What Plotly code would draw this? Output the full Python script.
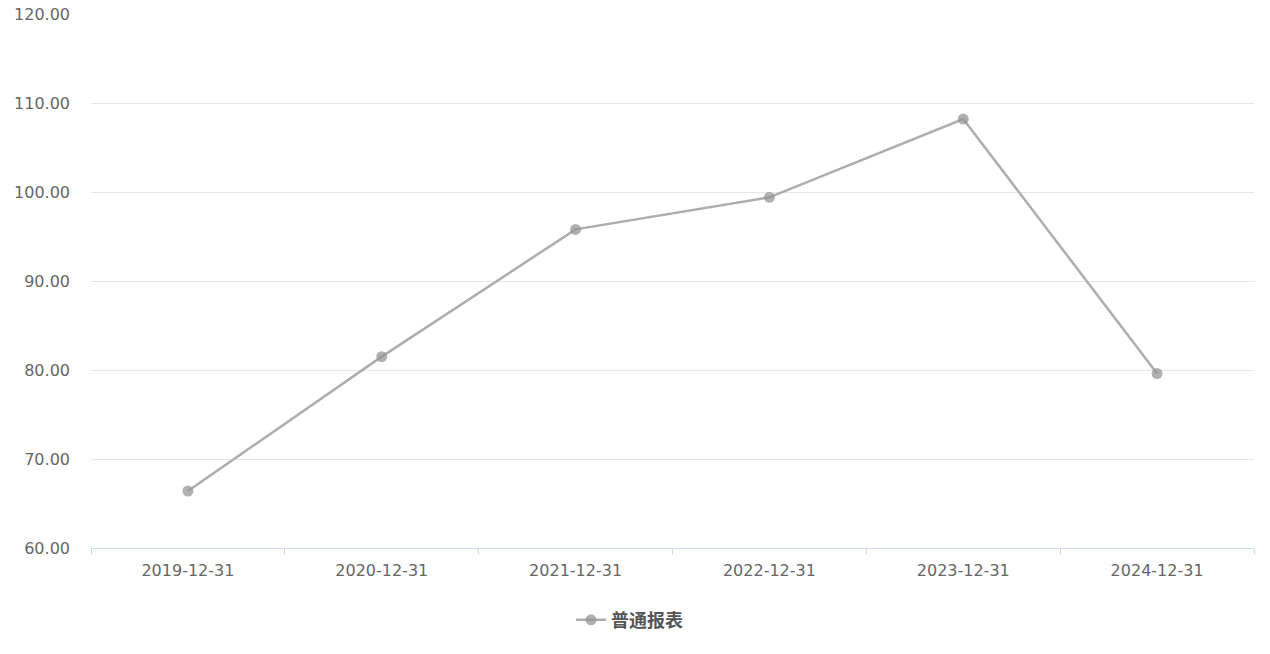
import plotly.graph_objects as go

dates = ['2019-12-31', '2020-12-31', '2021-12-31', '2022-12-31', '2023-12-31', '2024-12-31']
values = [66.4, 81.5, 95.8, 99.4, 108.2, 79.6]
series_name = '普通报表'

fig = go.Figure()

fig.add_trace(go.Scatter(
    x=dates,
    y=values,
    name=series_name,
    mode='lines+markers',
    line=dict(color='#adadad', width=2.5),
    marker=dict(size=11, color='rgba(150,150,150,0.75)'),
))

fig.update_layout(
    width=1270,
    height=654,
    margin=dict(l=91, r=16, t=14, b=106),
    plot_bgcolor='white',
    paper_bgcolor='white',
    font=dict(family='DejaVu Sans', size=16, color='#666666'),
    showlegend=True,
    legend=dict(
        orientation='h',
        x=0.4127, xanchor='left',
        y=-0.135, yanchor='middle',
        font=dict(size=18, color='#555555', family='Noto Sans CJK SC', weight='bold'),
        itemwidth=30,
    ),
)

fig.update_xaxes(
    type='category',
    range=[-0.5, 5.5],
    automargin=False,
    tickson='boundaries',
    ticks='outside',
    ticklen=5,
    tickcolor='#ccd6eb',
    showline=True,
    linecolor='#ccd6eb',
    linewidth=1,
    showgrid=False,
    ticklabelstandoff=8,
    tickfont=dict(size=16, color='#666666'),
)

fig.update_yaxes(
    range=[60, 120],
    dtick=10,
    tickformat='.2f',
    automargin=False,
    showgrid=True,
    gridcolor='#e6e6e6',
    zeroline=False,
    ticks='',
    ticklabelstandoff=20,
    tickfont=dict(size=16, color='#666666'),
)

# remove the page's default body margin so the chart sits at 0,0
fig.write_html('out.html', config={'displayModeBar': False},
               post_script="document.body.style.margin='0';")
